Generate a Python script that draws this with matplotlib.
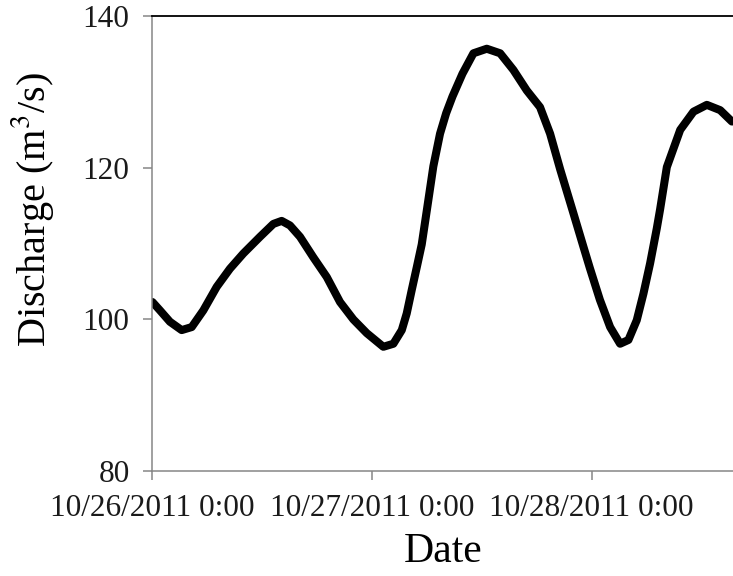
import matplotlib
matplotlib.use("Agg")
import matplotlib.pyplot as plt
import pandas as pd

plt.rcParams["font.family"] = ["Liberation Serif", "DejaVu Serif"]
plt.rcParams["mathtext.fontset"] = "stix"

# Hours elapsed since 10/26/2011 0:00 and river discharge (m3/s)
hours = [0.00, 0.82, 1.91, 3.19, 4.29, 5.56, 7.02, 8.47, 9.93, 11.75,
         13.21, 14.12, 15.03, 16.13, 17.58, 19.05, 20.50, 21.96, 23.42, 25.23,
         26.33, 27.25, 27.79, 28.34, 28.89, 29.43, 30.00, 30.70, 31.43, 32.10,
         32.79, 33.88, 35.08, 36.54, 38.00, 39.45, 40.91, 42.36, 43.46, 44.56,
         46.01, 47.10, 47.80, 48.90, 50.02, 51.11, 52.02, 52.93, 53.66, 54.39,
         55.12, 55.48, 56.22, 57.68, 59.13, 60.59, 62.05, 63.33]
discharge = [102.3, 101.2, 99.7, 98.6, 99.0, 101.2, 104.3, 106.7, 108.7, 110.9,
             112.6, 113.0, 112.4, 110.9, 108.2, 105.6, 102.3, 100.0, 98.2, 96.4,
             96.8, 98.6, 100.8, 103.9, 106.9, 109.9, 114.5, 120.2, 124.5, 127.2,
             129.4, 132.4, 135.1, 135.7, 135.1, 132.9, 130.2, 128.0, 124.5, 119.8,
             114.0, 109.6, 106.8, 102.6, 99.0, 96.8, 97.3, 99.9, 103.4, 107.4,
             112.0, 114.5, 120.1, 125.0, 127.4, 128.3, 127.6, 126.1]

tick_hours = [0, 24, 48]
tick_labels = ["10/26/2011 0:00", "10/27/2011 0:00", "10/28/2011 0:00"]
y_ticks = [80, 100, 120, 140]

start = pd.Timestamp("2011-10-26 00:00")
times = [start + pd.Timedelta(hours=h) for h in hours]
tick_times = [start + pd.Timedelta(hours=h) for h in tick_hours]

fig = plt.figure(figsize=(7.33, 5.76), dpi=100)
ax = fig.add_axes([0.208, 0.182, 0.792, 0.790])

ax.plot(times, discharge, color="black", lw=5.8,
        solid_joinstyle="round", solid_capstyle="round")

ax.set_xlim(start, start + pd.Timedelta(hours=63.45))
ax.set_ylim(80, 140)
ax.set_xticks(tick_times)
ax.set_xticklabels(tick_labels)
ax.set_yticks(y_ticks)

grey = "#868686"
ax.spines["right"].set_visible(False)
ax.spines["top"].set_color("black")
ax.spines["top"].set_linewidth(1.3)
for side in ("left", "bottom"):
    ax.spines[side].set_color(grey)
    ax.spines[side].set_linewidth(1.1)

ax.tick_params(axis="both", direction="out", length=6.5, width=1.1,
               color=grey, labelsize=22.5, pad=10, labelcolor="#1a1a1a")

ax.set_ylabel(r"Discharge (m$^{3}$/s)", fontsize=29, va="center")
ax.yaxis.set_label_coords(-0.206, 0.575)
ax.set_xlabel("Date", fontsize=30, va="center")
ax.xaxis.set_label_coords(0.5, -0.178)

fig.savefig("out.png", dpi=100)
